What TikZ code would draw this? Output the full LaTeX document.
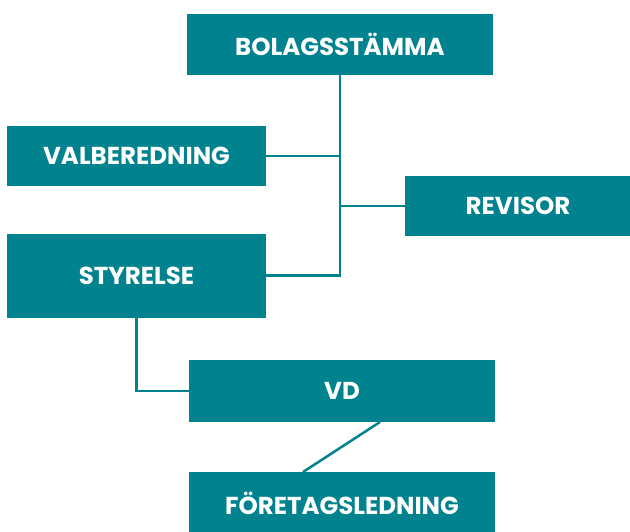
\documentclass[tikz,border=0pt]{standalone}
\usepackage{fontspec}
\newfontfamily\orgfont{Poppins}
\definecolor{orgteal}{RGB}{0,131,143}
\begin{document}
\begin{tikzpicture}[x=1pt,y=-1pt,inner sep=0pt,outer sep=0pt,
orgbox/.style={rectangle,fill=orgteal,text=white,minimum width=306pt,minimum height=61pt,font=\orgfont\bfseries\fontsize{24.5}{24.5}\selectfont},
orgline/.style={draw=orgteal,line width=2.5pt}]
\useasboundingbox (0,0) rectangle (630,531);
\draw (340,44) node[orgbox] (bolag) {BOLAGSSTÄMMA};
\draw (136.5,156) node[orgbox,minimum width=259pt,minimum height=60pt] (valb) {VALBEREDNING};
\draw (518,206) node[orgbox,minimum width=226pt,minimum height=60pt] (revisor) {REVISOR};
\draw (136.5,275.5) node[orgbox,minimum width=259pt,minimum height=84pt] (styrelse) {STYRELSE};
\draw (342,391) node[orgbox,minimum height=62pt] (vd) {VD};
\draw (342,503) node[orgbox,minimum height=62pt] (ftl) {FÖRETAGSLEDNING};
\draw[orgline] (bolag.south) |- (styrelse.east);
\draw[orgline] (valb.east) -- (valb.east -| bolag.south);
\draw[orgline] (revisor.west) -- (revisor.west -| bolag.south);
\draw[orgline] (styrelse.south) |- (vd.west);
\draw[orgline] ([xshift=38pt]vd.south) -- ([xshift=-39pt]ftl.north);
\end{tikzpicture}
\end{document}
